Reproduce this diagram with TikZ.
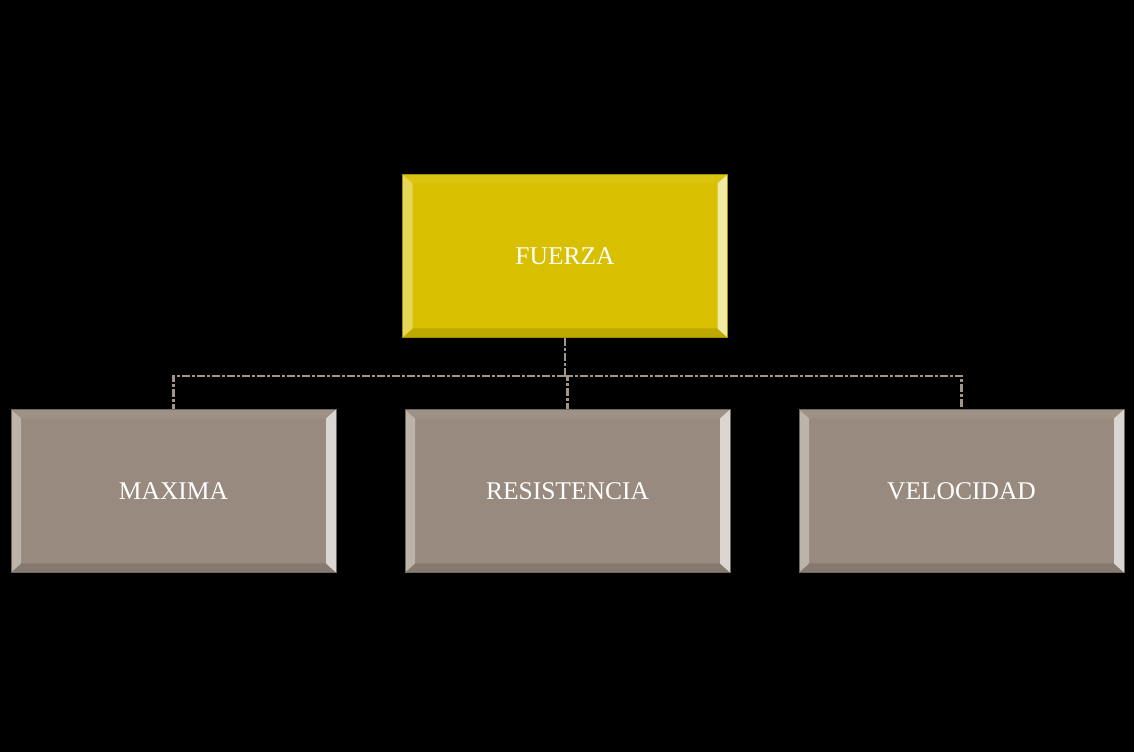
\documentclass[tikz,border=0pt]{standalone}
\usepackage{fontspec}
\setmainfont{Liberation Serif}
\definecolor{gold}{RGB}{216,192,0}
\definecolor{taupe}{RGB}{152,138,126}
\definecolor{linkgray}{RGB}{162,150,140}
\tikzset{
  bevelbox/.style = {
    fill=#1, draw=#1!75!black, line width=1pt,
    minimum width=325pt, minimum height=163pt, inner sep=0pt,
    text=white, font=\fontsize{25.5}{30}\selectfont,
    path picture={
      \fill[#1!94!white] (path picture bounding box.north west) -- (path picture bounding box.north east)
        -- ([shift={(-10pt,-9pt)}]path picture bounding box.north east) -- ([shift={(10pt,-9pt)}]path picture bounding box.north west) -- cycle;
      \fill[#1!88!black] (path picture bounding box.south west) -- (path picture bounding box.south east)
        -- ([shift={(-10pt,9pt)}]path picture bounding box.south east) -- ([shift={(10pt,9pt)}]path picture bounding box.south west) -- cycle;
      \fill[#1!65!white] (path picture bounding box.south west) -- (path picture bounding box.north west)
        -- ([shift={(10pt,-9pt)}]path picture bounding box.north west) -- ([shift={(10pt,9pt)}]path picture bounding box.south west) -- cycle;
      \fill[#1!35!white] (path picture bounding box.south east) -- (path picture bounding box.north east)
        -- ([shift={(-10pt,-9pt)}]path picture bounding box.north east) -- ([shift={(-10pt,9pt)}]path picture bounding box.south east) -- cycle;
    }
  },
  link/.style = {linkgray, line width=2.6pt, dash pattern=on 8pt off 2pt on 3pt off 2pt}
}

\begin{document}
\begin{tikzpicture}[x=1pt,y=1pt]
  % background
  \useasboundingbox[fill=black] (0,0) rectangle (1134,752);
  % boxes
  \node[bevelbox=gold] (fuerza) at (565,496) {FUERZA};
  \node[bevelbox=taupe] (maxima) at (173.5,261) {MAXIMA};
  \node[bevelbox=taupe] (resistencia) at (567.5,261) {RESISTENCIA};
  \node[bevelbox=taupe] (velocidad) at (961.5,261) {VELOCIDAD};
  % connectors
  \coordinate (bus) at (565,376);
  \draw[link] (fuerza.south) -- (bus);
  \foreach \child in {maxima,resistencia,velocidad}
    \draw[link] (bus) -| (\child.north);
\end{tikzpicture}
\end{document}
